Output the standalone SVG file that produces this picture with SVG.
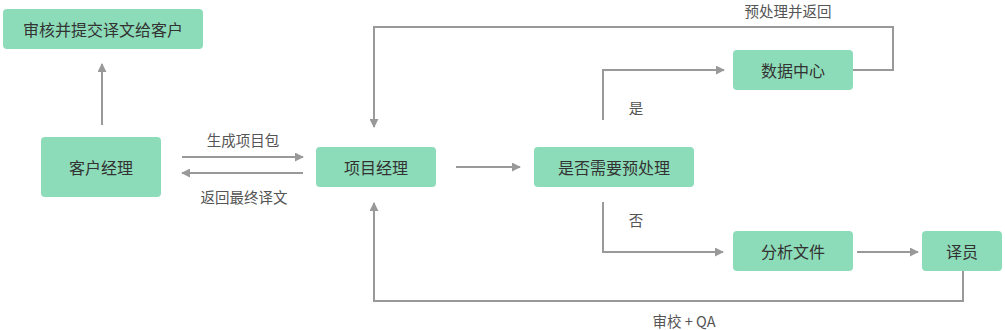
<svg xmlns="http://www.w3.org/2000/svg" width="1005" height="330" viewBox="0 0 1005 330">
<defs>
<style>
.node rect{fill:#8ddcb9;}
.node text{font-family:"Noto Sans CJK SC","Liberation Sans",sans-serif;font-size:16px;fill:#333;text-anchor:middle;dominant-baseline:central;}
.conn path{fill:none;stroke:#999;stroke-width:2;}
.lbl{font-family:"Noto Sans CJK SC","Liberation Sans",sans-serif;font-size:14.5px;fill:#555;text-anchor:middle;dominant-baseline:central;}
</style>
<marker id="arr" viewBox="0 0 10 10" refX="9" refY="5" markerWidth="4.5" markerHeight="4.5" orient="auto" markerUnits="strokeWidth">
<path d="M0,0 L10,5 L0,10 z" fill="#999"/>
</marker>
</defs>
<rect width="1005" height="330" fill="#fff"/>
<g class="conn">
<path d="M102,125 V64" marker-end="url(#arr)"/>
<path d="M182,157 H303" marker-end="url(#arr)"/>
<path d="M303,173 H182" marker-end="url(#arr)"/>
<path d="M456,167 H520" marker-end="url(#arr)"/>
<path d="M603,120 V70 H724" marker-end="url(#arr)"/>
<path d="M853,70 H893 V27 H374 V127" marker-end="url(#arr)"/>
<path d="M603,202 V252 H723" marker-end="url(#arr)"/>
<path d="M857,252 H918" marker-end="url(#arr)"/>
<path d="M963,271 V301 H374 V203" marker-end="url(#arr)"/>
</g>
<g id="labels">
<text class="lbl" x="243" y="139">生成项目包</text>
<text class="lbl" x="244" y="196">返回最终译文</text>
<text class="lbl" x="788" y="10">预处理并返回</text>
<text class="lbl" x="636" y="107">是</text>
<text class="lbl" x="636" y="219">否</text>
<text class="lbl" x="684" y="320">审校 + QA</text>
</g>
<g id="n1" class="node"><rect x="3" y="9" width="200" height="40" rx="4"/><text x="103" y="29">审核并提交译文给客户</text></g>
<g id="n2" class="node"><rect x="41" y="137" width="120" height="60" rx="4"/><text x="101" y="167">客户经理</text></g>
<g id="n3" class="node"><rect x="316" y="147" width="120" height="40" rx="4"/><text x="376" y="167">项目经理</text></g>
<g id="n4" class="node"><rect x="534" y="147" width="160" height="40" rx="4"/><text x="614" y="167">是否需要预处理</text></g>
<g id="n5" class="node"><rect x="733" y="50" width="120" height="40" rx="4"/><text x="793" y="70">数据中心</text></g>
<g id="n6" class="node"><rect x="733" y="231" width="120" height="40" rx="4"/><text x="793" y="251">分析文件</text></g>
<g id="n7" class="node"><rect x="922" y="231" width="80" height="40" rx="4"/><text x="962" y="251">译员</text></g>
</svg>
